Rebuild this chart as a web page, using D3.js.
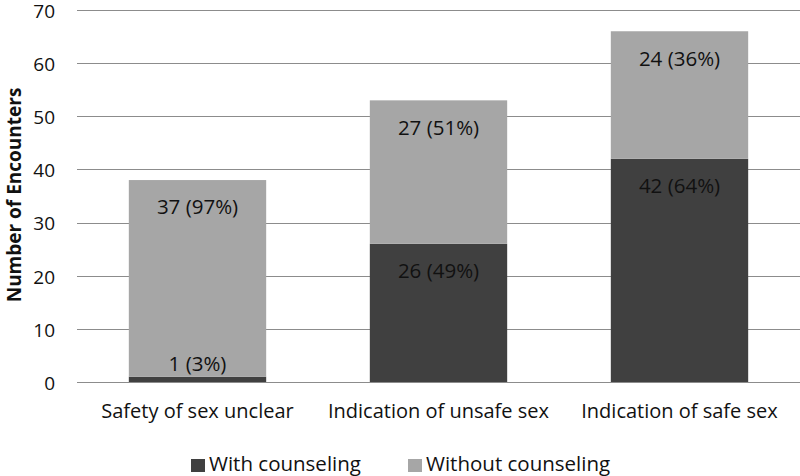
<!DOCTYPE html>
<html>
<head>
<meta charset="utf-8">
<script src="https://cdn.jsdelivr.net/npm/d3@7"></script>
<style>
  html, body { margin: 0; padding: 0; background: #fff; }
  svg { display: block; }
  text { font-family: "Open Sans", "Liberation Sans", sans-serif; }
</style>
</head>
<body>
<svg id="chart" width="800" height="476"></svg>
<script>
const categories = ["Safety of sex unclear", "Indication of unsafe sex", "Indication of safe sex"];
const seriesNames = ["With counseling", "Without counseling"];
const withCounseling = [1, 26, 42];
const withoutCounseling = [37, 27, 24];
const yTicks = [0, 10, 20, 30, 40, 50, 60, 70];
const colors = ["#404040", "#a6a6a6"];

const svg = d3.select("#chart");
const plotLeft = 77, plotRight = 800, plotTop = 10, plotBottom = 382;

const x = d3.scaleBand().domain(categories).range([plotLeft, plotRight]).paddingInner(0.43).paddingOuter(0.215);
const y = d3.scaleLinear().domain([0, 70]).range([plotBottom, plotTop]);

// gridlines
svg.append("g").selectAll("line").data(yTicks).join("line")
  .attr("x1", plotLeft).attr("x2", plotRight)
  .attr("y1", d => Math.round(y(d)) + 0.5).attr("y2", d => Math.round(y(d)) + 0.5)
  .attr("stroke", "#8c8c8c").attr("stroke-width", 1.2);

// y tick labels
svg.append("g").selectAll("text").data(yTicks).join("text")
  .attr("x", 55).attr("y", d => y(d) + 1).attr("dy", "0.36em")
  .attr("text-anchor", "end").attr("font-size", 19).attr("fill", "#111")
  .text(d => d);

// y title
svg.append("text")
  .attr("transform", "translate(21,195) rotate(-90)")
  .attr("text-anchor", "middle").attr("font-size", 19).attr("font-weight", "bold")
  .attr("fill", "#111")
  .text("Number of Encounters");

// stacks
const rows = categories.map((c, i) => ({ cat: c, v0: withCounseling[i], v1: withoutCounseling[i] }));
const stack = d3.stack().keys(["v0", "v1"])(rows);

const g = svg.append("g");
stack.forEach((layer, li) => {
  g.append("g").selectAll("rect").data(layer).join("rect")
    .attr("x", d => x(d.data.cat))
    .attr("width", x.bandwidth())
    .attr("y", d => y(d[1]))
    .attr("height", d => y(d[0]) - y(d[1]))
    .attr("fill", colors[li]);
});

// data labels
stack.forEach((layer, li) => {
  g.append("g").selectAll("text").data(layer).join("text")
    .attr("x", d => x(d.data.cat) + x.bandwidth() / 2)
    .attr("y", d => {
      const h = y(d[0]) - y(d[1]);
      return h < 30 ? y(d[1]) - 13 : y(d[1]) + 27;
    })
    .attr("dy", "0.36em")
    .attr("text-anchor", "middle").attr("font-size", 20.5).attr("fill", "#111")
    .text(d => {
      const v = d[1] - d[0];
      const total = d.data.v0 + d.data.v1;
      return v + " (" + Math.round(100 * v / total) + "%)";
    });
});

// baseline axis
svg.append("line").attr("x1", plotLeft).attr("x2", plotRight)
  .attr("y1", Math.round(y(0)) + 0.5).attr("y2", Math.round(y(0)) + 0.5)
  .attr("stroke", "#8c8c8c").attr("stroke-width", 1.2);

// category labels
svg.append("g").selectAll("text").data(categories).join("text")
  .attr("x", d => x(d) + x.bandwidth() / 2).attr("y", 411).attr("dy", "0.36em")
  .attr("text-anchor", "middle").attr("font-size", 20).attr("fill", "#111")
  .text(d => d);

// legend
const legendX = [191, 408];
const lg = svg.append("g").selectAll("g").data(seriesNames).join("g")
  .attr("transform", (d, i) => `translate(${legendX[i]},0)`);
lg.append("rect").attr("x", 0).attr("y", 459).attr("width", 14).attr("height", 13)
  .attr("fill", (d, i) => colors[i]);
lg.append("text").attr("x", 18).attr("y", 464).attr("dy", "0.36em")
  .attr("font-size", 20.5).attr("fill", "#111").text(d => d);
</script>
</body>
</html>
